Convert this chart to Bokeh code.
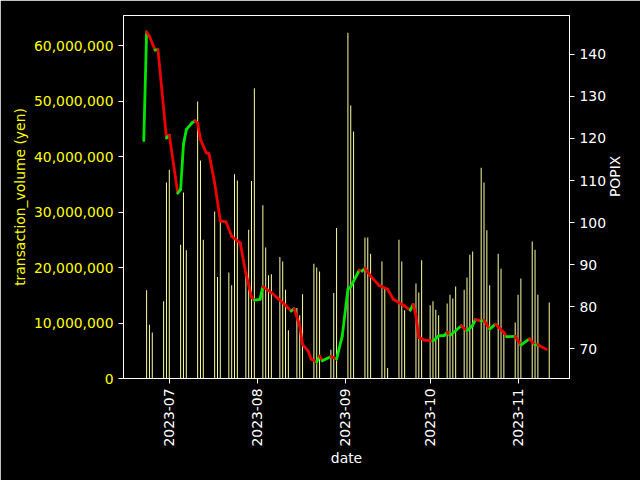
import math
import pandas as pd
from bokeh.plotting import figure
from bokeh.models import (LinearAxis, Range1d, SingleIntervalTicker, NumeralTickFormatter,
                          DatetimeTickFormatter, MonthsTicker, ColumnDataSource)
from bokeh.embed import file_html
from bokeh.resources import INLINE

# ---------------- data ----------------
bar_dates = [
    "2023-06-23", "2023-06-24", "2023-06-25",
    "2023-06-29", "2023-06-30", "2023-07-01",
    "2023-07-05", "2023-07-06", "2023-07-07",
    "2023-07-11", "2023-07-12", "2023-07-13",
    "2023-07-17", "2023-07-18", "2023-07-19",
    "2023-07-22", "2023-07-23", "2023-07-24", "2023-07-25",
    "2023-07-28", "2023-07-29", "2023-07-30", "2023-07-31",
    "2023-08-03", "2023-08-04", "2023-08-05", "2023-08-06",
    "2023-08-09", "2023-08-10", "2023-08-11", "2023-08-12",
    "2023-08-15", "2023-08-16", "2023-08-17",
    "2023-08-21", "2023-08-22", "2023-08-23",
    "2023-08-27", "2023-08-28", "2023-08-29",
    "2023-09-02", "2023-09-03", "2023-09-04",
    "2023-09-08", "2023-09-09", "2023-09-10",
    "2023-09-14", "2023-09-15", "2023-09-16",
    "2023-09-20", "2023-09-21", "2023-09-22",
    "2023-09-26", "2023-09-27", "2023-09-28",
    "2023-10-01", "2023-10-02", "2023-10-03", "2023-10-04",
    "2023-10-07", "2023-10-08", "2023-10-09", "2023-10-10",
    "2023-10-13", "2023-10-14", "2023-10-15", "2023-10-16",
    "2023-10-19", "2023-10-20", "2023-10-21", "2023-10-22",
    "2023-10-25", "2023-10-26", "2023-10-27",
    "2023-10-31", "2023-11-01", "2023-11-02",
    "2023-11-06", "2023-11-07", "2023-11-08",
    "2023-11-12",
]
transaction_volume = [
    15_900_000, 9_700_000, 8_300_000,
    13_900_000, 35_300_000, 37_600_000,
    24_100_000, 33_500_000, 23_100_000,
    49_900_000, 39_300_000, 25_000_000,
    30_100_000, 18_300_000, 28_900_000,
    19_100_000, 16_800_000, 36_800_000, 35_700_000,
    19_100_000, 26_800_000, 35_600_000, 52_300_000,
    31_200_000, 23_600_000, 18_600_000, 18_800_000,
    21_900_000, 21_100_000, 16_000_000, 8_700_000,
    12_700_000, 11_400_000, 15_200_000,
    20_700_000, 20_000_000, 19_300_000,
    5_200_000, 15_400_000, 27_100_000,
    62_300_000, 49_200_000, 44_500_000,
    25_400_000, 25_400_000, 22_500_000,
    21_100_000, 16_300_000, 1_900_000,
    25_000_000, 21_100_000, 12_300_000,
    17_100_000, 15_500_000, 21_300_000,
    13_200_000, 13_900_000, 12_400_000, 11_400_000,
    13_500_000, 15_100_000, 14_400_000, 16_600_000,
    16_000_000, 18_200_000, 22_300_000, 22_900_000,
    38_000_000, 35_300_000, 26_700_000, 16_800_000,
    22_500_000, 19_800_000, 8_500_000,
    10_100_000, 15_100_000, 18_000_000,
    24_700_000, 23_200_000, 15_100_000,
    13_700_000,
]

line_dates = [
    "2023-06-22", "2023-06-23", "2023-06-24", "2023-06-26", "2023-06-27",
    "2023-06-30", "2023-07-01", "2023-07-04", "2023-07-05", "2023-07-06",
    "2023-07-07", "2023-07-09", "2023-07-10", "2023-07-11", "2023-07-12",
    "2023-07-14", "2023-07-15", "2023-07-17", "2023-07-19", "2023-07-21",
    "2023-07-23", "2023-07-24", "2023-07-26", "2023-07-28", "2023-07-30",
    "2023-07-31", "2023-08-02", "2023-08-03", "2023-08-06", "2023-08-08",
    "2023-08-11", "2023-08-13", "2023-08-14", "2023-08-16", "2023-08-17",
    "2023-08-19", "2023-08-20", "2023-08-22", "2023-08-23", "2023-08-24",
    "2023-08-27", "2023-08-29", "2023-08-31", "2023-09-02", "2023-09-03",
    "2023-09-06", "2023-09-07", "2023-09-08", "2023-09-10", "2023-09-13",
    "2023-09-16", "2023-09-18", "2023-09-22", "2023-09-24", "2023-09-25",
    "2023-09-26", "2023-09-27", "2023-09-29", "2023-10-02", "2023-10-04",
    "2023-10-06", "2023-10-07", "2023-10-08", "2023-10-12", "2023-10-14",
    "2023-10-16", "2023-10-17", "2023-10-19", "2023-10-20", "2023-10-22",
    "2023-10-24", "2023-10-27", "2023-10-28", "2023-10-31", "2023-11-02",
    "2023-11-05", "2023-11-07", "2023-11-08", "2023-11-11",
]
popix = [
    119.5, 145.3, 144.3, 141.0, 141.1,
    120.1, 120.8, 107.0, 107.9, 118.6,
    122.1, 123.7, 124.2, 123.7, 119.8,
    116.6, 116.4, 109.5, 100.4, 100.2,
    96.8, 96.2, 95.2, 88.0, 82.3,
    81.6, 81.8, 84.8, 83.4, 82.2,
    80.4, 79.0, 79.6, 75.5, 71.1,
    69.5, 67.6, 66.9, 68.3, 67.2,
    68.2, 67.6, 73.1, 84.2, 84.8,
    88.7, 88.5, 89.2, 87.3, 85.1,
    84.2, 81.8, 80.2, 79.2, 80.6,
    77.8, 72.7, 72.1, 71.9, 73.1,
    73.2, 74.0, 73.2, 75.5, 74.3,
    75.6, 77.0, 76.6, 76.8, 74.7,
    75.9, 73.9, 72.9, 73.0, 70.9,
    72.4, 70.9, 71.0, 69.9,
]

# ---------------- styling constants ----------------
FONT = "DejaVu Sans"
FS = "13.9px"
UP_COLOR = "#00e600"
DOWN_COLOR = "#ee0000"
BAR_COLOR = "#ffffa0"

bx = pd.to_datetime(bar_dates)
lx = pd.to_datetime(line_dates)

# x range: data extent with 5% padding (matplotlib style)
xmin = min(bx.min(), lx.min())
xmax = max(bx.max(), lx.max())
span = xmax - xmin
x_start = xmin - span * 0.05
x_end = xmax + span * 0.05

vmax = max(transaction_volume)
pmin, pmax = min(popix), max(popix)
pspan = pmax - pmin

p = figure(width=640, height=480, x_axis_type="datetime",
           x_range=Range1d(x_start, x_end),
           y_range=Range1d(0, vmax * 1.05),
           output_backend="svg", toolbar_location=None,
           min_border_left=123, min_border_right=71,
           min_border_top=15, min_border_bottom=102)
p.extra_y_ranges = {"popix": Range1d(pmin - 0.05 * pspan, pmax + 0.05 * pspan)}

p.background_fill_color = "black"
p.border_fill_color = "black"
p.outline_line_color = "white"
p.outline_line_width = 1
p.xgrid.visible = False
p.ygrid.visible = False

# bars
bar_src = ColumnDataSource(dict(x=bx, top=transaction_volume))
p.vbar(x="x", top="top", width=0.35 * 86_400_000, bottom=0, source=bar_src,
       fill_color=BAR_COLOR, line_color=None)

# line segments coloured by direction
x0 = list(lx[:-1])
x1 = list(lx[1:])
y0 = popix[:-1]
y1 = popix[1:]
cols = [UP_COLOR if b >= a else DOWN_COLOR for a, b in zip(y0, y1)]
seg_src = ColumnDataSource(dict(x0=x0, x1=x1, y0=y0, y1=y1, c=cols))
p.segment(x0="x0", y0="y0", x1="x1", y1="y1", color="c", line_width=2.8,
          line_cap="round", y_range_name="popix", source=seg_src)

# left axis
ly = p.yaxis[0]
ly.ticker = SingleIntervalTicker(interval=10_000_000)
ly.formatter = NumeralTickFormatter(format="0,0")
ly.axis_label = "transaction_volume (yen)"
ly.axis_label_text_color = "#ffff00"
ly.major_label_text_color = "#ffff00"

# right axis
ry = LinearAxis(y_range_name="popix", axis_label="POPIX",
                ticker=SingleIntervalTicker(interval=10))
p.add_layout(ry, "right")
try:
    ry.axis_label_orientation = math.pi / 2
except Exception:
    pass

# bottom axis
bxax = p.xaxis[0]
bxax.ticker = MonthsTicker(months=list(range(12)))
bxax.formatter = DatetimeTickFormatter(months="%Y-%m", days="%Y-%m", years="%Y-%m")
bxax.major_label_orientation = math.pi / 2
bxax.axis_label = "date"

for ax in [ly, ry, bxax]:
    ax.axis_line_color = "white"
    ax.major_tick_line_color = "white"
    ax.minor_tick_line_color = None
    ax.major_tick_in = 0
    ax.major_tick_out = 5
    ax.major_label_standoff = 5
    ax.axis_label_standoff = 6
    ax.major_label_text_font = FONT
    ax.major_label_text_font_size = FS
    ax.axis_label_text_font = FONT
    ax.axis_label_text_font_size = FS
    ax.axis_label_text_font_style = "normal"

bxax.axis_label_standoff = 0
ly.axis_label_standoff = 3

for ax in [ry, bxax]:
    ax.major_label_text_color = "white"
    ax.axis_label_text_color = "white"

open("out.html", "w").write(file_html(p, INLINE))
